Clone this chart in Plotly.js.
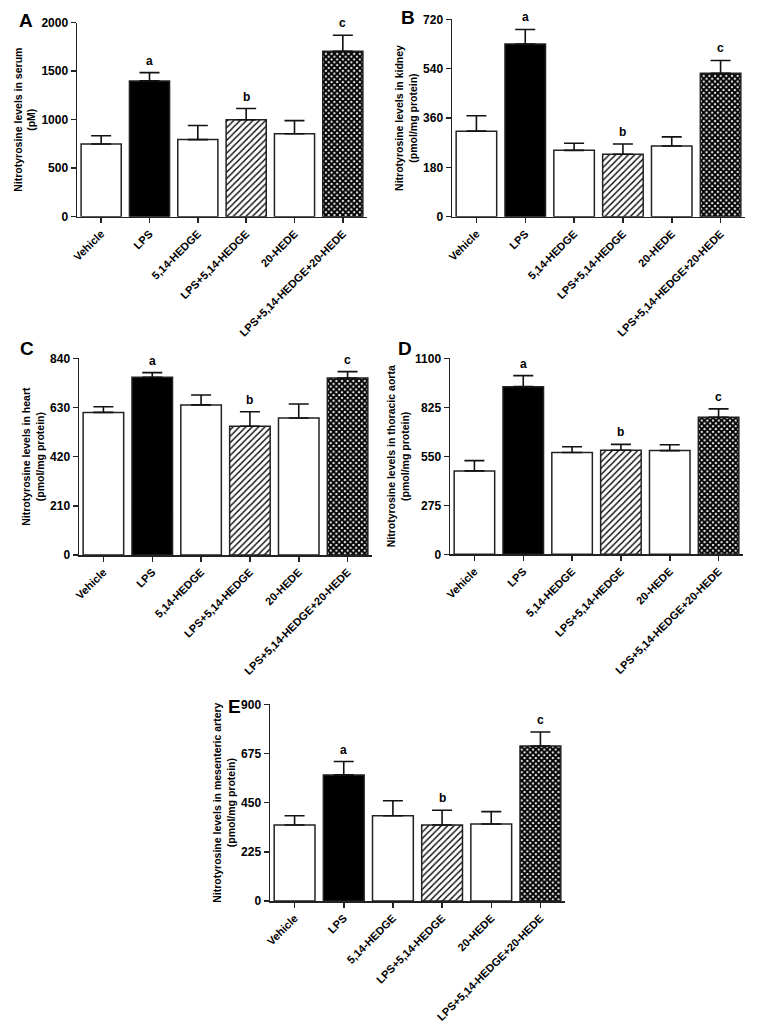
<!DOCTYPE html>
<html><head><meta charset="utf-8">
<script src="https://cdn.plot.ly/plotly-3.0.1.min.js"></script>
<style>html,body{margin:0;padding:0;background:#fff}#chart{width:759px;height:1031px}</style>
</head><body><div id="chart"></div>
<script>
const categories = ['Vehicle','LPS','5,14-HEDGE','LPS+5,14-HEDGE','20-HEDE','LPS+5,14-HEDGE+20-HEDE'];
const sigLetters = ['', 'a', '', 'b', '', 'c'];
const fillColors = ['#ffffff','#000000','#ffffff','#ffffff','#ffffff','#ffffff'];
const fillPatterns = ['', '', '', '/', '', 'x'];

const serumMean = [750, 1400, 795, 1000, 855, 1705];
const serumSem  = [85, 85, 145, 115, 135, 165];
const kidneyMean = [312, 630, 242, 228, 258, 523];
const kidneySem  = [56, 53, 26, 37, 33, 47];
const heartMean = [609, 759, 641, 550, 585, 756];
const heartSem  = [24, 20, 42, 62, 60, 27];
const aortaMean = [468, 941, 571, 584, 582, 769];
const aortaSem  = [58, 62, 33, 33, 33, 47];
const mesMean = [348, 577, 390, 348, 352, 709];
const mesSem  = [42, 61, 69, 67, 57, 64];

const panels = [
  {lab:'A', mean:serumMean, sem:serumSem, title:'Nitrotyrosine levels in serum<br>(pM)', max:2000, dtick:500,
   xd:[77/759, 367/759], yd:[1-216.7/1031, 1-22.7/1031], lx:17, ly:20},
  {lab:'B', mean:kidneyMean, sem:kidneySem, title:'Nitrotyrosine levels in kidney<br>(pmol/mg protein)', max:720, dtick:180,
   xd:[452/759, 745/759], yd:[1-216.7/1031, 1-19.3/1031], lx:399, ly:17},
  {lab:'C', mean:heartMean, sem:heartSem, title:'Nitrotyrosine levels in heart<br>(pmol/mg protein)', max:840, dtick:210,
   xd:[79/759, 372/759], yd:[1-555/1031, 1-358.3/1031], lx:18, ly:348},
  {lab:'D', mean:aortaMean, sem:aortaSem, title:'Nitrotyrosine levels in thoracic aorta<br>(pmol/mg protein)', max:1100, dtick:275,
   xd:[450/759, 743/759], yd:[1-554.3/1031, 1-358.3/1031], lx:396, ly:348},
  {lab:'E', mean:mesMean, sem:mesSem, title:'Nitrotyrosine levels in mesenteric artery<br>(pmol/mg protein)', max:900, dtick:225,
   xd:[270/759, 565/759], yd:[1-901/1031, 1-704.3/1031], lx:226, ly:706}
];

const FONT = 'Liberation Sans, Arial, sans-serif';
const data = [];
const layout = {
  width:759, height:1031, margin:{l:0,r:0,t:0,b:0},
  paper_bgcolor:'#fff', plot_bgcolor:'#fff', showlegend:false, barmode:'overlay',
  font:{family:FONT, color:'#000'}, annotations:[]
};

panels.forEach((p, i) => {
  const n = i === 0 ? '' : String(i+1);
  const xa = 'x'+n, ya = 'y'+n;
  categories.forEach((c, k) => {
    const pat = fillPatterns[k];
    const marker = {color:fillColors[k], line:{color:'#222', width:1.5}};
    if (pat === '/') marker.pattern = {shape:'/', fgcolor:'#000', bgcolor:'#fff', size:4.5, solidity:0.3};
    if (pat === 'x') marker.pattern = {shape:'x', fgcolor:'#000', bgcolor:'#fff', size:4, solidity:0.75};
    data.push({
      type:'bar', x:[c], y:[p.mean[k]], xaxis:xa, yaxis:ya, width:0.83,
      marker:marker,
      error_y:{type:'data', symmetric:false, array:[p.sem[k]], arrayminus:[0],
        color:'#111', thickness:1.6, width:10},
      hoverinfo:'skip'
    });
    if (sigLetters[k]) {
      layout.annotations.push({xref:xa, yref:ya, x:c, y:p.mean[k]+p.sem[k], text:'<b>'+sigLetters[k]+'</b>',
        showarrow:false, yanchor:'bottom', yshift:3, font:{family:FONT, size:12, color:'#000'}});
    }
  });
  layout['xaxis'+n] = {
    domain:p.xd, anchor:ya, type:'category', categoryorder:'array', categoryarray:categories, range:[-0.5,5.5],
    showline:true, linecolor:'#222', linewidth:1.5, ticks:'outside', ticklen:5, tickwidth:1.5, tickcolor:'#222',
    tickangle:-45, tickfont:{family:FONT, size:11, color:'#000', weight:'bold'}, showgrid:false, zeroline:false, fixedrange:true
  };
  layout['yaxis'+n] = {
    domain:p.yd, anchor:xa, range:[0, p.max], dtick:p.dtick, tick0:0,
    showline:true, linecolor:'#222', linewidth:1.5, ticks:'outside', ticklen:5, tickwidth:1.5, tickcolor:'#222',
    tickfont:{family:FONT, size:12, color:'#000', weight:'bold'}, showgrid:false, zeroline:false, fixedrange:true,
    title:{text:p.title, font:{family:FONT, size:10.5, color:'#000', weight:'bold'}, standoff:3}
  };
  layout.annotations.push({xref:'paper', yref:'paper', x:p.lx/759, y:1-p.ly/1031, text:'<b>'+p.lab+'</b>',
    showarrow:false, xanchor:'left', yanchor:'middle', font:{family:FONT, size:19, color:'#000'}});
});

Plotly.newPlot('chart', data, layout, {displayModeBar:false, staticPlot:true});
</script></body></html>
